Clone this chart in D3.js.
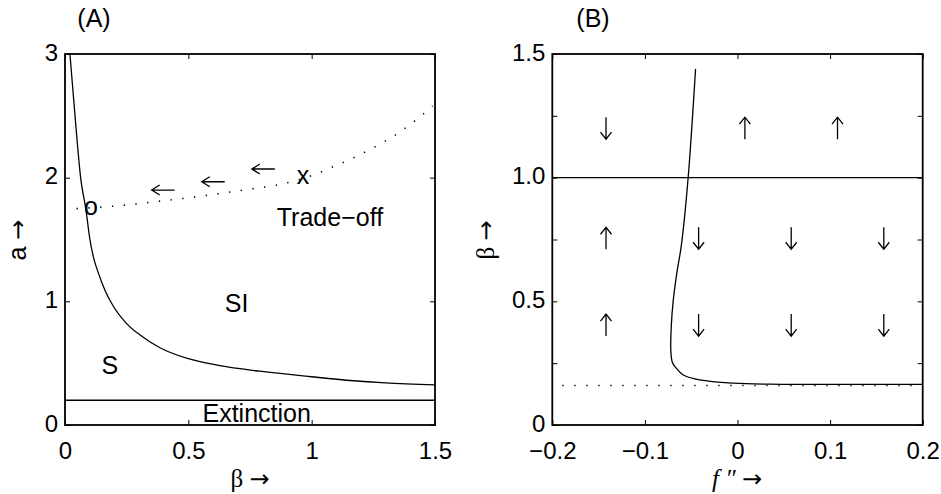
<!DOCTYPE html>
<html>
<head>
<meta charset="utf-8">
<script src="https://cdn.jsdelivr.net/npm/d3@7/dist/d3.min.js"></script>
<style>
  html, body { margin: 0; padding: 0; background: #fff; }
  svg { display: block; }
  text { font-family: "Liberation Sans", Arial, Helvetica, sans-serif; fill: #000; }
  .axis text { font-size: 24px; }
  .axis .domain { display: none; }
  .axis line { stroke: #000; stroke-width: 1; }
</style>
</head>
<body>
<svg id="fig" width="941" height="494"></svg>
<script>
// ---- Panel A: (beta, a) plane ----
const betaBoundary = [0.020, 0.041, 0.064, 0.085, 0.101, 0.115, 0.135, 0.162, 0.196, 0.250, 0.317, 0.385, 0.493, 0.628, 0.790, 1.000, 1.155, 1.300, 1.500];
const aBoundary    = [3.00, 2.49, 1.99, 1.74, 1.50, 1.36, 1.23, 1.09, 0.96, 0.82, 0.71, 0.625, 0.54, 0.48, 0.435, 0.39, 0.36, 0.34, 0.325];

const betaTradeoff = [0.047, 0.200, 0.385, 0.550, 0.723, 0.872, 0.966, 1.101, 1.229, 1.358, 1.473, 1.490];
const aTradeoff    = [1.75, 1.77, 1.81, 1.85, 1.90, 1.946, 1.994, 2.10, 2.22, 2.37, 2.55, 2.58];

const extinctionLevel = 0.2;

const regionNames = ["S", "SI", "Trade\u2212off", "Extinction"];
const regionBeta  = [0.182, 0.696, 1.074, 0.777];
const regionA     = [0.485, 0.984, 1.684, 0.095];

const markerSymbols = ["o", "x"];
const markerBeta    = [0.105, 0.965];
const markerA       = [1.75, 2.0];

const leftArrowBeta = [0.398, 0.601, 0.804];
const leftArrowA    = [1.90, 1.967, 2.07];

const xTicksA = [0, 0.5, 1, 1.5];
const yTicksA = [0, 1, 2, 3];

// ---- Panel B: (f'', beta) plane ----
const fppCurve  = [-0.0453, -0.0533, -0.0605, -0.0657, -0.0695, -0.0715, -0.0720, -0.0705, -0.0675, -0.0585, -0.0405, -0.0045, 0.035, 0.100, 0.200];
const betaCurve = [1.44, 1.00, 0.73, 0.61, 0.50, 0.40, 0.30, 0.255, 0.236, 0.202, 0.182, 0.169, 0.165, 0.164, 0.164];

const betaThreshold = 1.0;
const betaDotted = 0.16;

// +1 = beta increases (up), -1 = beta decreases (down)
const arrowDir  = [-1, 1, 1,
                   1, -1, -1, -1,
                   1, -1, -1, -1];
const arrowFpp  = [-0.142, 0.008, 0.108,
                   -0.142, -0.042, 0.058, 0.158,
                   -0.142, -0.042, 0.058, 0.158];
const arrowBeta = [1.20, 1.20, 1.20,
                   0.755, 0.755, 0.755, 0.755,
                   0.404, 0.404, 0.404, 0.404];

const xTicksB = [-0.2, -0.1, 0, 0.1, 0.2];
const yTicksB = [0, 0.25, 0.5, 0.75, 1.0, 1.25, 1.5];
const yLabelsB = { 0: "0", 0.5: "0.5", 1: "1.0", 1.5: "1.5" };

const svg = d3.select("#fig");
const plotTop = 54, plotBottom = 425;
const tickLen = 5;

// open-headed arrow centred on (cx, cy) pointing along (ux, uy)
function arrowPath(cx, cy, ux, uy, len, head, half) {
  const tx = cx + ux * len / 2, ty = cy + uy * len / 2;
  const bx = cx - ux * len / 2, by = cy - uy * len / 2;
  const px = -uy, py = ux;
  const hx = tx - ux * head, hy = ty - uy * head;
  return `M${bx},${by}L${tx},${ty}M${hx + px * half},${hy + py * half}L${tx},${ty}L${hx - px * half},${hy - py * half}`;
}

function frame(g, x, y, xTicks, yTicks, xFmt, yFmt) {
  g.append("g").attr("class", "axis")
    .attr("transform", `translate(0,${plotBottom})`)
    .call(d3.axisBottom(x).tickValues(xTicks).tickSize(-tickLen).tickSizeOuter(0).tickPadding(16.5).tickFormat(xFmt));
  g.append("g").attr("class", "axis")
    .attr("transform", `translate(0,${plotTop})`)
    .call(d3.axisTop(x).tickValues(xTicks).tickSize(-tickLen).tickSizeOuter(0).tickFormat(""));
  g.append("g").attr("class", "axis")
    .attr("transform", `translate(${x.range()[0]},0)`)
    .call(d3.axisLeft(y).tickValues(yTicks).tickSize(-tickLen).tickSizeOuter(0).tickPadding(7).tickFormat(yFmt))
    .selectAll("text").attr("dy", "0.25em");
  g.append("g").attr("class", "axis")
    .attr("transform", `translate(${x.range()[1]},0)`)
    .call(d3.axisRight(y).tickValues(yTicks).tickSize(-tickLen).tickSizeOuter(0).tickFormat(""));
  g.append("rect")
    .attr("x", x.range()[0]).attr("y", plotTop)
    .attr("width", x.range()[1] - x.range()[0]).attr("height", plotBottom - plotTop)
    .attr("fill", "none").attr("stroke", "#000").attr("stroke-width", 1.8);
}

function axisTitle(sel, parts) {
  parts.forEach(p => {
    const t = sel.append("tspan").text(p.text);
    if (p.family) t.style("font-family", p.family);
    if (p.size) t.style("font-size", p.size);
    if (p.italic) t.style("font-style", "italic");
  });
}

// ================= Panel A =================
const xA = d3.scaleLinear().domain([0, 1.5]).range([65, 435]);
const yA = d3.scaleLinear().domain([0, 3]).range([plotBottom, plotTop]);
const gA = svg.append("g");

gA.append("path")
  .datum(d3.range(betaBoundary.length))
  .attr("fill", "none").attr("stroke", "#000").attr("stroke-width", 1.3)
  .attr("d", d3.line().x(i => xA(betaBoundary[i])).y(i => yA(aBoundary[i])).curve(d3.curveMonotoneX));

gA.append("path")
  .datum(d3.range(betaTradeoff.length))
  .attr("fill", "none").attr("stroke", "#000").attr("stroke-width", 1.6)
  .attr("stroke-dasharray", "1.3,10.5")
  .attr("d", d3.line().x(i => xA(betaTradeoff[i])).y(i => yA(aTradeoff[i])).curve(d3.curveMonotoneX));

gA.append("line")
  .attr("x1", xA(0)).attr("x2", xA(1.5))
  .attr("y1", yA(extinctionLevel)).attr("y2", yA(extinctionLevel))
  .attr("stroke", "#000").attr("stroke-width", 1.3);

gA.selectAll("text.region").data(regionNames).join("text")
  .attr("class", "region")
  .attr("x", (d, i) => xA(regionBeta[i])).attr("y", (d, i) => yA(regionA[i]))
  .attr("dy", "0.36em").attr("text-anchor", "middle")
  .style("font-size", "25px").text(d => d);

gA.selectAll("text.marker").data(markerSymbols).join("text")
  .attr("class", "marker")
  .attr("x", (d, i) => xA(markerBeta[i])).attr("y", (d, i) => yA(markerA[i]))
  .attr("dy", "0.27em").attr("text-anchor", "middle")
  .style("font-size", "25px").text(d => d);

gA.selectAll("path.larrow").data(leftArrowBeta).join("path")
  .attr("class", "larrow")
  .attr("fill", "none").attr("stroke", "#000").attr("stroke-width", 1.3)
  .attr("d", (d, i) => arrowPath(xA(d), yA(leftArrowA[i]), -1, 0, 23, 8, 5));

frame(gA, xA, yA, xTicksA, yTicksA, d3.format("~g"), d3.format("~g"));

svg.append("text").attr("x", 94).attr("y", 27).attr("text-anchor", "middle")
  .style("font-size", "25px").text("(A)");

svg.append("text").attr("x", 250).attr("y", 487).attr("text-anchor", "middle")
  .style("font-size", "25px")
  .call(axisTitle, [{ text: "\u03b2 ", family: "'Liberation Serif', serif" },
                    { text: "\u2192", family: "'DejaVu Sans', sans-serif", size: "24px" }]);

svg.append("text").attr("transform", "translate(26,240) rotate(-90)").attr("text-anchor", "middle")
  .style("font-size", "25px")
  .call(axisTitle, [{ text: "a " },
                    { text: "\u2192", family: "'DejaVu Sans', sans-serif", size: "24px" }]);

// ================= Panel B =================
const xB = d3.scaleLinear().domain([-0.2, 0.2]).range([552.3, 922.7]);
const yB = d3.scaleLinear().domain([0, 1.5]).range([plotBottom, plotTop]);
const gB = svg.append("g");

gB.append("line")
  .attr("x1", xB(-0.2)).attr("x2", xB(0.2))
  .attr("y1", yB(betaThreshold)).attr("y2", yB(betaThreshold))
  .attr("stroke", "#000").attr("stroke-width", 1.3);

gB.append("line")
  .attr("x1", xB(-0.2)).attr("x2", xB(0.2))
  .attr("y1", yB(betaDotted)).attr("y2", yB(betaDotted))
  .attr("stroke", "#000").attr("stroke-width", 1.6)
  .attr("stroke-dasharray", "1.3,10.7").attr("stroke-dashoffset", -10);

gB.append("path")
  .datum(d3.range(fppCurve.length))
  .attr("fill", "none").attr("stroke", "#000").attr("stroke-width", 1.3)
  .attr("d", d3.line().x(i => xB(fppCurve[i])).y(i => yB(betaCurve[i])).curve(d3.curveCatmullRom.alpha(0.5)));

gB.selectAll("path.varrow").data(arrowDir).join("path")
  .attr("class", "varrow")
  .attr("fill", "none").attr("stroke", "#000").attr("stroke-width", 1.3)
  .attr("d", (d, i) => arrowPath(xB(arrowFpp[i]), yB(arrowBeta[i]), 0, -d, 22, 7, 5.5));

frame(gB, xB, yB, xTicksB, yTicksB, d3.format("~g"), d => yLabelsB[d] !== undefined ? yLabelsB[d] : "");

svg.append("text").attr("x", 593).attr("y", 27).attr("text-anchor", "middle")
  .style("font-size", "25px").text("(B)");

svg.append("text").attr("x", 737).attr("y", 487).attr("text-anchor", "middle")
  .style("font-size", "25px")
  .call(axisTitle, [{ text: "f \u2033 ", family: "'Liberation Serif', serif", italic: true },
                    { text: "\u2192", family: "'DejaVu Sans', sans-serif", size: "24px" }]);

svg.append("text").attr("transform", "translate(494,240) rotate(-90)").attr("text-anchor", "middle")
  .style("font-size", "25px")
  .call(axisTitle, [{ text: "\u03b2 ", family: "'Liberation Serif', serif" },
                    { text: "\u2192", family: "'DejaVu Sans', sans-serif", size: "24px" }]);
</script>
</body>
</html>
